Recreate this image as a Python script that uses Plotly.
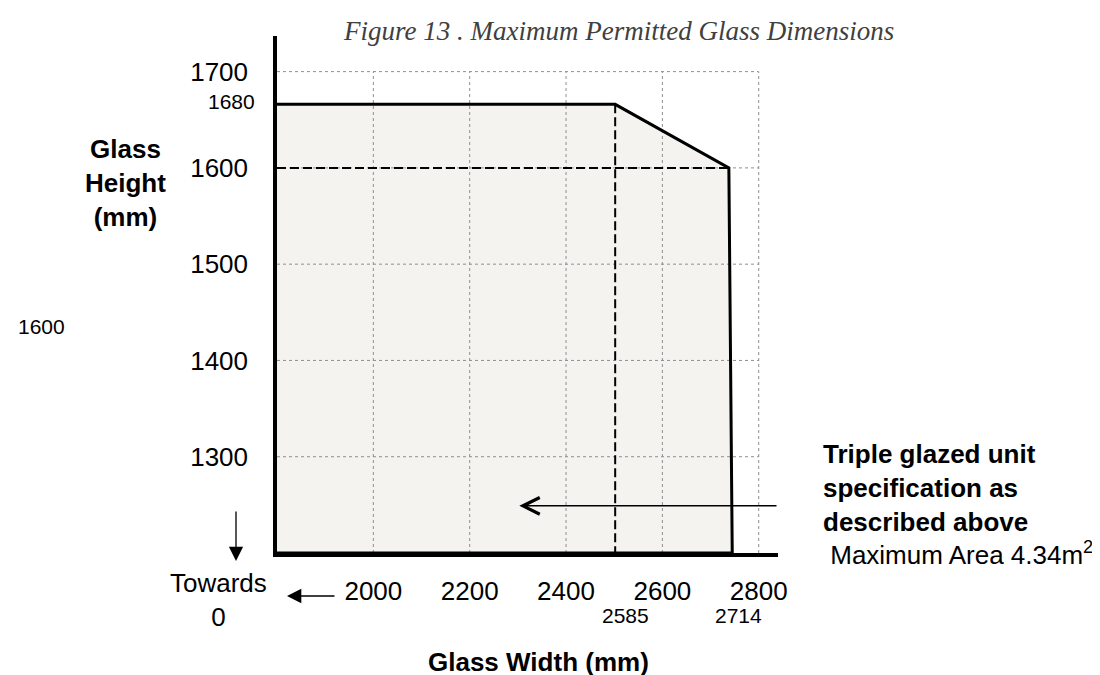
import plotly.graph_objects as go

# permitted region outline (width, height in mm)
outline_w = [1800, 2502, 2738, 2745, 1800]
outline_h = [1666, 1666, 1600, 1200, 1200]

# dashed guide lines
guide_h_w = [1800, 2738]
guide_h_h = [1600, 1600]
guide_v_w = [2502, 2502]
guide_v_h = [1666, 1200]

x_ticks = [2000, 2200, 2400, 2600, 2800]
y_ticks = [1300, 1400, 1500, 1600, 1700]
x_min, x_max = 1800, 2840
y_min, y_max = 1200, 1737

# plot box in pixels
L, R, T, B = 269, 770, 28, 545
W, H = 1100, 675


def px(x):
    return (x - L) / (R - L)


def py(y):
    return (B - y) / (B - T)


FONT = "Arial, Liberation Sans, sans-serif"

fig = go.Figure()

fig.add_trace(go.Scatter(
    x=[outline_w[-1]] + outline_w, y=[outline_h[-1]] + outline_h,
    fill="toself", fillcolor="#f4f3ef", mode="lines", line=dict(width=0),
    hoverinfo="skip"))

# dotted grid, only inside 1800-2800 x 1200-1700
gx, gy = [], []
for t in x_ticks:
    gx += [t, t, None]
    gy += [y_min, y_ticks[-1], None]
for t in y_ticks:
    gx += [x_min, x_ticks[-1], None]
    gy += [t, t, None]
fig.add_trace(go.Scatter(x=gx, y=gy, mode="lines",
                         line=dict(color="#8f8f8f", width=1, dash="dot"),
                         hoverinfo="skip"))

for xs, ys in [(guide_h_w, guide_h_h), (guide_v_w, guide_v_h)]:
    fig.add_trace(go.Scatter(x=xs, y=ys, mode="lines",
                             line=dict(color="black", width=2, dash="9px,4px"),
                             hoverinfo="skip"))

fig.add_trace(go.Scatter(x=outline_w, y=outline_h, mode="lines",
                         line=dict(color="black", width=3), hoverinfo="skip"))

ann = []


def txt(x, y, s, size=26, xanchor="center", bold=False, **kw):
    if bold:
        s = "<b>" + s + "</b>"
    ann.append(dict(x=px(x), y=py(y), xref="paper", yref="paper", text=s,
                    showarrow=False, xanchor=xanchor, yanchor="middle",
                    font=dict(family=FONT, size=size, color="black"), **kw))


ann.append(dict(x=px(610), y=py(23), xref="paper", yref="paper",
                text="<i>Figure 13 . Maximum Permitted Glass Dimensions</i>",
                showarrow=False, xanchor="center", yanchor="middle",
                font=dict(family="Liberation Serif, serif", size=27, color="#404040")))

txt(117, 175, "Glass<br>Height<br>(mm)", bold=True)
txt(249, 93, "1680", size=21, xanchor="right")
txt(8, 318, "1600", size=21, xanchor="left")
txt(210, 592, "Towards<br>0")
txt(617, 607, "2585", size=21)
txt(730, 607, "2714", size=21)
txt(530, 654, "Glass Width (mm)", bold=True)
txt(813, 496, "<b>Triple glazed unit<br>specification as<br>described above</b><br> Maximum Area 4.34m<sup>2</sup>",
    xanchor="left", align="left")

# arrow inside plot pointing at the region
ann.append(dict(x=2303, y=1249, ax=x_max, ay=1249, xref="x", yref="y",
                axref="x", ayref="y", text="", showarrow=True, arrowhead=5,
                arrowsize=2.2, arrowwidth=1.5, arrowcolor="black", standoff=0))
# "towards 0" arrows
ann.append(dict(x=px(228), y=py(553), xref="paper", yref="paper", ax=0, ay=-51,
                text="", showarrow=True, arrowhead=2, arrowsize=2.2,
                arrowwidth=1.3, arrowcolor="black", standoff=0))
ann.append(dict(x=px(279), y=py(588), xref="paper", yref="paper", ax=49, ay=0,
                text="", showarrow=True, arrowhead=2, arrowsize=2.2,
                arrowwidth=1.3, arrowcolor="black", standoff=0))

fig.update_layout(
    width=W, height=H, showlegend=False,
    margin=dict(l=L, r=W - R, t=T, b=H - B, pad=0),
    paper_bgcolor="white", plot_bgcolor="white",
    annotations=ann,
    xaxis=dict(range=[x_min, x_max], tickvals=x_ticks, showgrid=False,
               zeroline=False, showline=True, linewidth=3.5, linecolor="black",
               ticks="", ticklabelstandoff=12,
               tickfont=dict(family=FONT, size=26, color="black")),
    yaxis=dict(range=[y_min, y_max], tickvals=y_ticks, showgrid=False,
               zeroline=False, showline=True, linewidth=3.5, linecolor="black",
               ticks="", ticklabelstandoff=20,
               tickfont=dict(family=FONT, size=26, color="black")),
)

fig.write_html("out.html")
